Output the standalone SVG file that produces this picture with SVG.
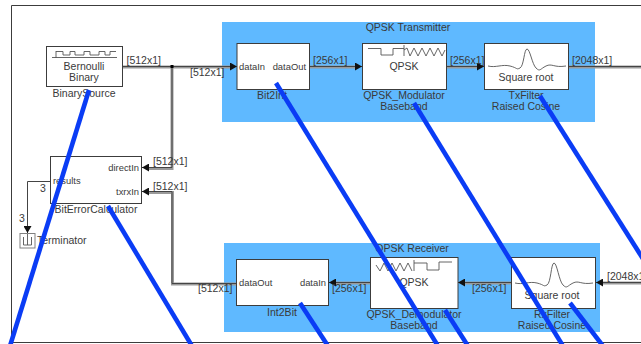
<svg xmlns="http://www.w3.org/2000/svg" width="641" height="344" viewBox="0 0 641 344">
<style>
text{font-family:"Liberation Sans",Arial,sans-serif;font-size:10.5px;fill:#3a3a3a}
.m{text-anchor:middle}.e{text-anchor:end}
text.p{font-size:9.4px}
.panel{fill:#5fb9ff}
.blk{fill:#fff;stroke:#3c3c3c;stroke-width:1}
.icon{fill:none;stroke:#555;stroke-width:.9}
.bus{fill:none;stroke:#9a9a9a;stroke-width:3}
.core{fill:none;stroke:#444;stroke-width:1}
.ov{stroke:#0a3cf5;stroke-width:4.600;stroke-linecap:butt}
</style>
<defs>
<marker id="a" markerUnits="userSpaceOnUse" markerWidth="8" markerHeight="8" refX="7" refY="4" orient="auto"><path d="M0 0L7 4L0 8Z" fill="#111"/></marker>
</defs>
<rect width="641" height="344" fill="#fff"/>
<path d="M641 5.500H11.500V342.500H641" fill="none" stroke="#3c3c3c" stroke-width="1"/>
<g id="tx-panel"><rect class="panel" x="222" y="22" width="373" height="100"/><text class="m" x="408" y="31">QPSK Transmitter</text></g>
<g id="rx-panel"><rect class="panel" x="224" y="243" width="376" height="89"/><text class="m" x="412" y="252">QPSK Receiver</text></g>
<g id="connectors">
<path class="bus" d="M123 67H172V168.500H146"/>
<path class="bus" d="M172 67H231"/>
<path class="bus" d="M310 67H357"/>
<path class="bus" d="M447 67H479"/>
<path class="bus" d="M569 67H641"/>
<path class="bus" d="M641 283H603"/>
<path class="bus" d="M511 283H465"/>
<path class="bus" d="M370 283H336"/>
<path class="bus" d="M237 284H172.500V192.500H146"/>
<path class="core" d="M123 66.500H172V167.500H142" marker-end="url(#a)"/>
<path class="core" d="M172 66.500H237" marker-end="url(#a)"/>
<path class="core" d="M310 66.500H362" marker-end="url(#a)"/>
<path class="core" d="M447 66.500H484" marker-end="url(#a)"/>
<path class="core" d="M569 66.500H641"/>
<path class="core" d="M641 282.500H596" marker-end="url(#a)"/>
<path class="core" d="M511 282.500H458" marker-end="url(#a)"/>
<path class="core" d="M370 282.500H329" marker-end="url(#a)"/>
<path class="core" d="M237 283.500H172V191.500H142" marker-end="url(#a)"/>
<path class="core" d="M50 181.500H27.500V233" marker-end="url(#a)"/>
<rect x="170.500" y="65" width="3" height="3" fill="#000"/>
<text x="126.500" y="64">[512x1]</text>
<text x="190" y="76">[512x1]</text>
<text x="313" y="64">[256x1]</text>
<text x="450" y="64">[256x1]</text>
<text x="572" y="64">[2048x1]</text>
<text x="153" y="165">[512x1]</text>
<text x="153" y="190">[512x1]</text>
<text x="198" y="292">[512x1]</text>
<text x="332" y="292">[256x1]</text>
<text x="472" y="292">[256x1]</text>
<text x="607" y="280">[2048x1]</text>
<text x="40" y="192">3</text>
<text x="19" y="222">3</text>
</g>
<g id="BinarySource">
<rect class="blk" x="46.500" y="46.500" width="76" height="40"/>
<path class="icon" d="M52 57.500H117M56 51V58M56 51.500H63V55H70V51.500H75V55H84V51.500H90V55H99V51.500H105V55H110V51.500H116"/>
<text class="m" x="84" y="70">Bernoulli</text><text class="m" x="84" y="81">Binary</text>
<text class="m" x="84" y="97">BinarySource</text>
</g>
<g id="Bit2Int">
<rect class="blk" x="237" y="43.500" width="72.500" height="46"/>
<text class="p" x="239" y="70">dataIn</text><text class="p e" x="306" y="70">dataOut</text>
<text class="m" x="272" y="99">Bit2Int</text>
</g>
<g id="QPSK_Modulator">
<rect class="blk" x="362.500" y="43.500" width="84" height="46"/>
<path class="icon" d="M368 48.500H381V55H393V48.500H404M404 45V56M404 50L407 48L410 56L414 48L418 56L422 48L426 56L430 48L434 56L438 48L442 56L445 50"/>
<text class="m" x="404" y="70">QPSK</text>
<text class="m" x="404" y="99">QPSK_Modulator</text><text class="m" x="404" y="110">Baseband</text>
</g>
<g id="TxFilter">
<rect class="blk" x="484.500" y="43.500" width="84" height="46"/>
<path class="icon" d="M488 66C496 68 502 64 510 66S516 70 520 68S524 49 527 49S532 64 536 68S540 69 546 66S554 68 566 66"/>
<text class="m" x="526" y="81">Square root</text>
<text class="m" x="526" y="99">TxFilter</text><text class="m" x="526" y="110">Raised Cosine</text>
</g>
<g id="BitErrorCalculator">
<rect class="blk" x="50.500" y="156.500" width="91" height="47"/>
<text class="p e" x="139" y="171">directIn</text><text class="p e" x="139" y="195">txrxIn</text>
<text class="p" x="53" y="184">results</text>
<text class="m" x="96" y="213">BitErrorCalculator</text>
</g>
<g id="Terminator">
<rect x="20" y="233.500" width="15" height="14.500" fill="#fff" stroke="#808080" stroke-width="1"/>
<path class="icon" d="M23.500 237V245H31.500V237M27.500 234V245"/>
<text x="37" y="244">Terminator</text>
</g>
<g id="Int2Bit">
<rect class="blk" x="236.500" y="259.500" width="92" height="46"/>
<text class="p" x="239" y="286">dataOut</text><text class="p e" x="326" y="286">dataIn</text>
<text class="m" x="282" y="316">Int2Bit</text>
</g>
<g id="QPSK_Demodulator">
<rect class="blk" x="370.500" y="257.500" width="87.500" height="51"/>
<path class="icon" d="M376 265L380 271L384 263L388 271L392 263L396 271L400 263L404 271L408 263L412 271M414 260V271M414 263H427V270H439V262H452"/>
<text class="m" x="414" y="286">QPSK</text>
<text class="m" x="414" y="318">QPSK_Demodulator</text><text class="m" x="414" y="329">Baseband</text>
</g>
<g id="RxFilter">
<rect class="blk" x="511.500" y="257.500" width="84" height="51"/>
<path class="icon" d="M515 283C523 285 529 281 537 283S543 287 547 285S551 263 554 263S559 281 563 285S567 286 573 283S581 285 593 283"/>
<text class="m" x="552" y="299">Square root</text>
<text class="m" x="552" y="318">RxFilter</text><text class="m" x="552" y="329">Raised Cosine</text>
</g>
<g id="overlay-strokes">
<path class="ov" d="M89 90L10 346"/>
<path class="ov" d="M276 83L438 346"/>
<path class="ov" d="M414 103L563 346"/>
<path class="ov" d="M540 96L645 262"/>
<path class="ov" d="M108 206L192 346"/>
<path class="ov" d="M300 303L328 346"/>
<path class="ov" d="M445 310L468 346"/>
<path class="ov" d="M570 303L603 346"/>
</g>
</svg>
